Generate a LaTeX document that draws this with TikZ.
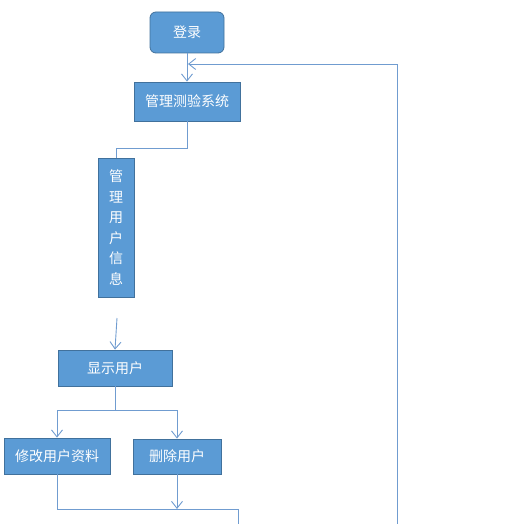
\documentclass[tikz,border=0pt]{standalone}
\usepackage{fontspec}
\setmainfont{Noto Sans CJK SC}
\usetikzlibrary{arrows.meta, positioning}
\definecolor{boxfill}{RGB}{91,155,213}
\definecolor{boxline}{RGB}{65,113,156}
\definecolor{wire}{RGB}{112,156,208}
\tikzset{
  blk/.style   = {draw=boxline, fill=boxfill, text=white, align=center,
                  font=\fontsize{14}{16}\selectfont, inner sep=0pt, line width=0.8pt},
  start/.style = {blk, rounded corners=6pt},
  tall/.style  = {blk, font=\fontsize{14}{20.6}\selectfont},
  link/.style  = {draw=wire, line width=0.9pt},
  flow/.style  = {link, -{Straight Barb[length=7pt,width=11pt]}},
}

\begin{document}
\begin{tikzpicture}[x=1pt, y=-1pt]
    \useasboundingbox (0,0) rectangle (515,524);

    \node[start, minimum width=74pt, minimum height=41pt] (login) at (187,32.5) {登录};
    \node[blk, minimum width=106pt, minimum height=39pt] (sys) at (187,101.5) {管理测验系统};
    \node[tall, minimum width=36pt, minimum height=139pt] (info) at (116,227.5)
      {管\\理\\用\\户\\信\\息};
    \node[blk, minimum width=114pt, minimum height=36pt] (show) at (115,368) {显示用户};
    \node[blk, minimum width=106pt, minimum height=36pt] (edit) at (57,456) {修改用户资料};
    \node[blk, minimum width=88pt, minimum height=35pt] (del) at (177,456.5) {删除用户};

    \coordinate (gap)   at (117,318);
    \coordinate (merge) at (177,509);
    \coordinate (exit)  at (238,524);
    \coordinate (feed)  at (397,524);
    \coordinate (back)  at (188,64);

    \draw[flow] (login) -- (sys);
    \draw[link] (sys.south) -- ++(0,27) -| (info.north);
    \draw[flow] (gap) -- (show.north);

    \draw[link] (show.south) -- ++(0,24) coordinate (split);
    \draw[flow] (split) -| (edit.north);
    \draw[flow] (split) -| (del.north);

    \draw[link] (edit.south) -- ++(0,35) -| (exit);
    \draw[flow] (del) -- (merge);

    \draw[flow] (feed) |- (back);
  \end{tikzpicture}
\end{document}
